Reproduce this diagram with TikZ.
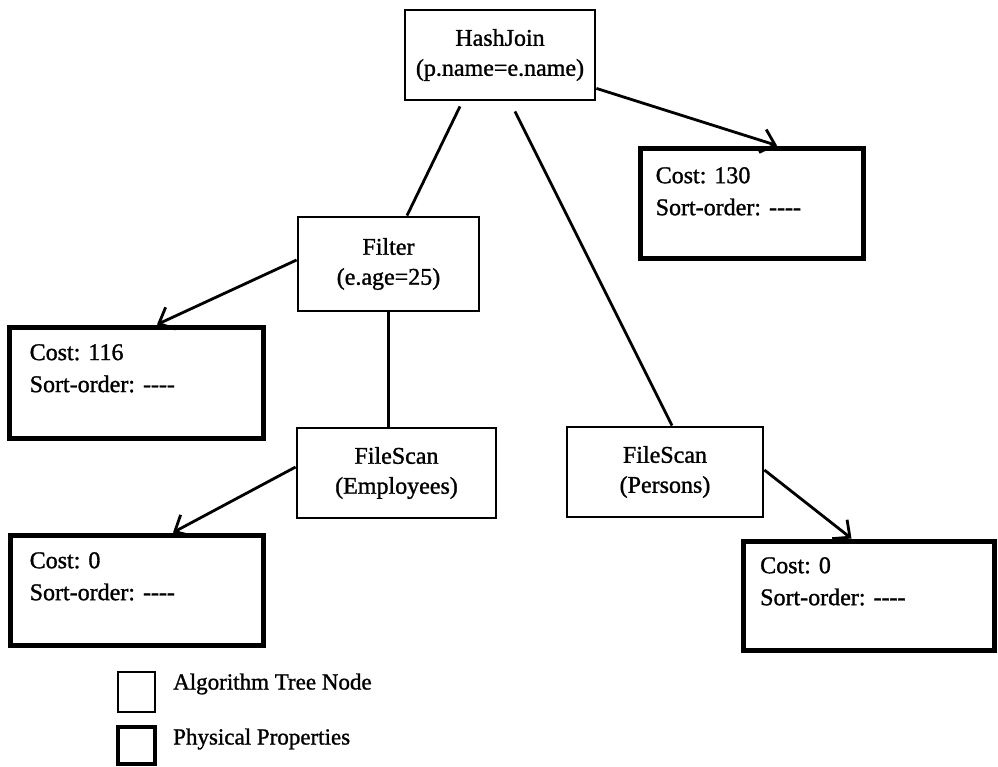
\documentclass[tikz,border=0pt]{standalone}
\usepackage{fontspec}
\setmainfont{Liberation Serif}[FakeBold=1.2]
\usetikzlibrary{calc,arrows.meta}
\begin{document}
\begin{tikzpicture}[x=1pt,y=-1pt,
  treebox/.style={draw, line width=2.8pt, inner sep=0pt, align=center,
    font=\fontsize{24}{30}\selectfont},
  propbox/.style={draw, line width=5pt, inner sep=0pt},
  proptext/.style={anchor=north west, inner sep=0pt, align=left,
    font=\fontsize{24}{32}\selectfont},
  legendtext/.style={anchor=west, inner sep=0pt, font=\fontsize{23}{28}\selectfont},
  edge/.style={line width=2.8pt},
  arr/.style={line width=2.8pt, -{Straight Barb[length=13pt,width=24pt]}},
]
\useasboundingbox (0,0) rectangle (998,766);

% algorithm tree nodes
\node[treebox, minimum width=190pt, minimum height=90pt] (hj) at (500,55)
  {HashJoin\\(p.name=e.name)};
\node[treebox, minimum width=181pt, minimum height=94pt] (filter) at (388.5,264)
  {Filter\\(e.age=25)};
\node[treebox, minimum width=199pt, minimum height=90pt] (emp) at (396.5,473)
  {FileScan\\(Employees)};
\node[treebox, minimum width=196pt, minimum height=90pt] (persons) at (665,472)
  {FileScan\\(Persons)};

% physical property boxes
\node[propbox, minimum width=223pt, minimum height=110pt] (c130) at (751.5,203) {};
\node[proptext] (c130t) at ($(c130.north west)+(18,21.5)$)
  {Cost: 130\\Sort-order: -{}-{}-{}-};
\node[propbox, minimum width=254pt, minimum height=111pt] (c116) at (136,382.5) {};
\node[proptext] (c116t) at ($(c116.north west)+(23,19.5)$)
  {Cost: 116\\Sort-order: -{}-{}-{}-};
\node[propbox, minimum width=253pt, minimum height=110pt] (c0l) at (136.5,590) {};
\node[proptext] (c0lt) at ($(c0l.north west)+(22,19.5)$)
  {Cost: 0\\Sort-order: -{}-{}-{}-};
\node[propbox, minimum width=251pt, minimum height=109pt] (c0r) at (869,595.5) {};
\node[proptext] (c0rt) at ($(c0r.north west)+(19,18.5)$)
  {Cost: 0\\Sort-order: -{}-{}-{}-};

% tree edges
\draw[edge] ($(hj.south)+(-40,5)$) -- ($(filter.north)+(18.5,0)$);
\draw[edge] ($(hj.south)+(15,10)$) -- ($(persons.north)+(7,0)$);
\draw[edge] (filter.south) -- (filter.south |- emp.north);

% property links
\draw[arr] ($(hj.south east)+(0,-13)$) -- ($(c130.north)+(25.5,0)$);
\draw[arr] ($(filter.west)+(0,-4)$) -- ($(c116.north)+(21,0)$);
\draw[arr] ($(emp.west)+(0,-6)$) -- ($(c0l.north)+(36.5,0)$);
\draw[arr] ($(persons.east)+(0,-2)$) -- ($(c0r.north)+(-17.5,0)$);

% legend
\node[draw, line width=2.6pt, minimum width=37pt, minimum height=40pt, inner sep=0pt]
  (lg1) at (136.5,692) {};
\node[legendtext] (lg1t) at (173,684) {Algorithm Tree Node};
\node[draw, line width=4pt, minimum width=37pt, minimum height=37pt, inner sep=0pt]
  (lg2) at (136.5,745.5) {};
\node[legendtext] (lg2t) at (173,739) {Physical Properties};
\end{tikzpicture}
\end{document}
